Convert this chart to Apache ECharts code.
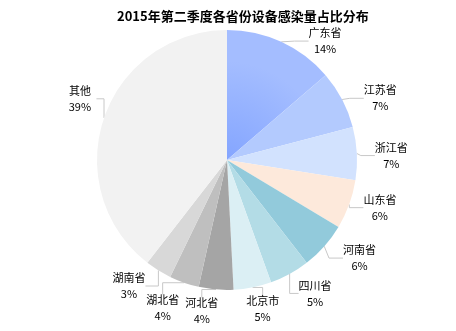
<!DOCTYPE html>
<html><head><meta charset="utf-8">
<script src="https://cdn.jsdelivr.net/npm/echarts@6/dist/echarts.min.js"></script>
<style>html,body{margin:0;padding:0;background:#fff}#c{width:456px;height:331px}</style>
</head><body><div id="c"></div>
<script>
const titleText = '2015年第二季度各省份设备感染量占比分布';
const categories = ['广东省','江苏省','浙江省','山东省','河南省','四川省','北京市','河北省','湖北省','湖南省','其他'];
const values = [13.7, 7.2, 6.6, 6.1, 5.9, 5.0, 4.7, 4.3, 3.7, 3.3, 39.5];
const colors = ['#93b0fe','#b3cafe','#d2e2fe','#fde9db','#92cadb','#b3dce6','#dbeff4','#a5a5a5','#bfbfbf','#d8d8d8','#f2f2f2'];
// small label nudges (dx, dy) to mimic the reference label placement
const labelNudge = [[5,-5],[0,-9],[-4,-9],[-9,-11],[-9,-5],[-28,1],[-27,-13],[22,-14],[48,12],[41,19],[19,-28]];

const chart = echarts.init(document.getElementById('c'), null, {renderer:'canvas'});
const data = categories.map((n,i)=>({
  name:n, value:values[i],
  itemStyle:{color: i===0 ? {type:'radial',x:0,y:1,r:1,colorStops:[{offset:0,color:'#84a5ff'},{offset:1,color:'#a4bdff'}]} : colors[i]}
}));
chart.setOption({
  animation:false,
  title:{text:titleText,left:112,top:5,textStyle:{fontFamily:'Noto Sans CJK SC',fontSize:13,fontWeight:'bold',color:'#000'}},
  series:[{
    type:'pie',
    center:[227,160],
    radius:[0,130],
    startAngle:90,
    clockwise:true,
    percentPrecision:0,
    avoidLabelOverlap:true,
    data:data,
    itemStyle:{borderWidth:0},
    label:{
      show:true,
      formatter:'{n|{b}}\n{n|{d}%}',
      padding:[6,0,0,0],
      rich:{n:{fontFamily:'Noto Sans CJK SC',fontSize:11,lineHeight:16,width:33,align:'center',color:'#000'}}
    },
    labelLine:{show:true,length:8,length2:14,lineStyle:{color:'#c8c8c8',width:1}},
    labelLayout:function(p){
      const d = labelNudge[p.dataIndex];
      return {x:p.labelRect.x + d[0], y:p.labelRect.y + d[1], align:'left', verticalAlign:'top'};
    }
  }]
});
</script></body></html>
